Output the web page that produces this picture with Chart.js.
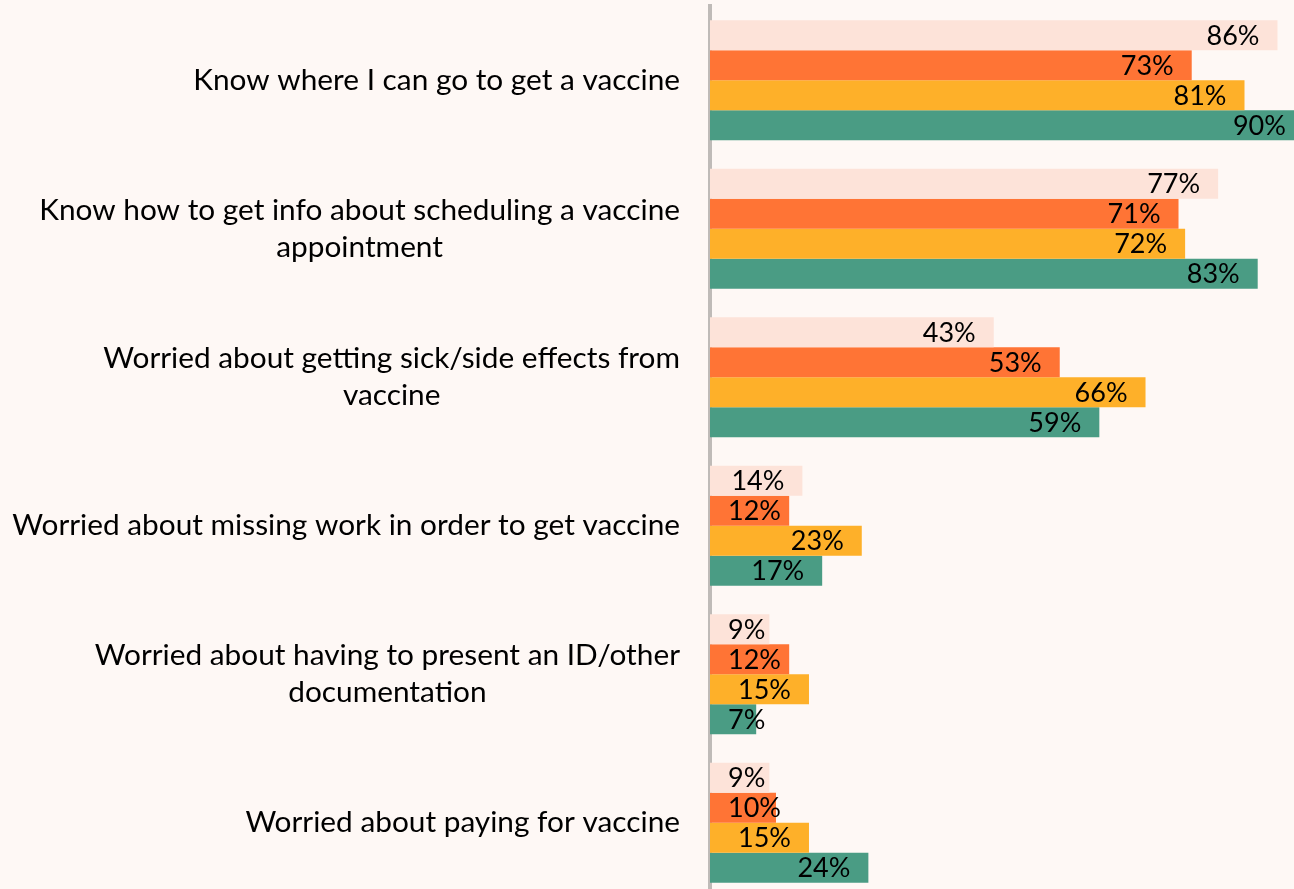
<!DOCTYPE html>
<html>
<head>
<meta charset="utf-8">
<script src="https://cdn.jsdelivr.net/npm/chart.js@4/dist/chart.umd.min.js"></script>
<style>
  html, body { margin: 0; padding: 0; background: #FEF8F5; overflow: hidden; width: 1294px; height: 889px; }
  #wrap { width: 1294px; height: 897px; }
  canvas { display: block; }
</style>
</head>
<body>
<div id="wrap"><canvas id="c" width="1294" height="897"></canvas></div>
<script>
const categories = [
  ["Know where I can go to get a vaccine"],
  ["Know how to get info about scheduling a vaccine", "appointment"],
  ["Worried about getting sick/side effects from", "vaccine"],
  ["Worried about missing work in order to get vaccine"],
  ["Worried about having to present an ID/other", "documentation"],
  ["Worried about paying for vaccine"]
];
const seriesNames = ["Series 1", "Series 2", "Series 3", "Series 4"];
const series1 = [86, 77, 43, 14, 9, 9];
const series2 = [73, 71, 53, 12, 12, 10];
const series3 = [81, 72, 66, 23, 15, 15];
const series4 = [90, 83, 59, 17, 7, 24];
const colors = ["#FDE3D9", "#FF7435", "#FEB029", "#4A9C84"];

const LABEL_FONT = "27px Lato";
const CAT_FONT = "29.8px Lato";

const valueLabels = {
  id: 'valueLabels',
  afterDatasetsDraw(chart) {
    const ctx = chart.ctx;
    const left = chart.chartArea.left;
    ctx.save();
    ctx.font = LABEL_FONT;
    ctx.fillStyle = '#000';
    ctx.textAlign = 'left';
    ctx.textBaseline = 'middle';
    chart.data.datasets.forEach((ds, di) => {
      const meta = chart.getDatasetMeta(di);
      meta.data.forEach((el, i) => {
        const text = ds.data[i] + '%';
        const w = ctx.measureText(text).width;
        let x = el.x - 18 - w;
        if (x < left + 18) x = left + 18;
        ctx.fillText(text, x, el.y + 1);
      });
    });
    ctx.restore();
  }
};

const catLabels = {
  id: 'catLabels',
  afterDraw(chart) {
    const ctx = chart.ctx;
    const yScale = chart.scales.y;
    const right = chart.chartArea.left - 30;
    const lh = 37;
    ctx.save();
    ctx.font = CAT_FONT;
    ctx.fillStyle = '#000';
    ctx.textAlign = 'center';
    ctx.textBaseline = 'middle';
    categories.forEach((lines, i) => {
      const cy = yScale.getPixelForValue(i);
      const bw = Math.max(...lines.map(l => ctx.measureText(l).width));
      const cx = right - bw / 2;
      const y0 = cy - (lines.length - 1) * lh / 2;
      lines.forEach((l, k) => ctx.fillText(l, cx, y0 + k * lh));
    });
    ctx.restore();
  }
};

const allSeries = [series1, series2, series3, series4];
new Chart(document.getElementById('c'), {
  type: 'bar',
  data: {
    labels: categories.map(l => l.join(' ')),
    datasets: allSeries.map((d, i) => ({
      label: seriesNames[i],
      data: d,
      backgroundColor: colors[i],
      borderWidth: 0,
      categoryPercentage: 0.808,
      barPercentage: 1.0
    }))
  },
  options: {
    indexAxis: 'y',
    responsive: false,
    animation: false,
    layout: { padding: { top: 6, left: 0, right: 0, bottom: 0 } },
    plugins: { legend: { display: false }, tooltip: { enabled: false } },
    scales: {
      x: { display: false, min: 0, max: 88.5 },
      y: {
        grid: { display: false, drawTicks: false },
        border: { display: true, color: '#BFBBB8', width: 4 },
        ticks: { display: false },
        afterFit(s) { s.width = 710; }
      }
    }
  },
  plugins: [valueLabels, catLabels]
});
</script>
</body>
</html>
